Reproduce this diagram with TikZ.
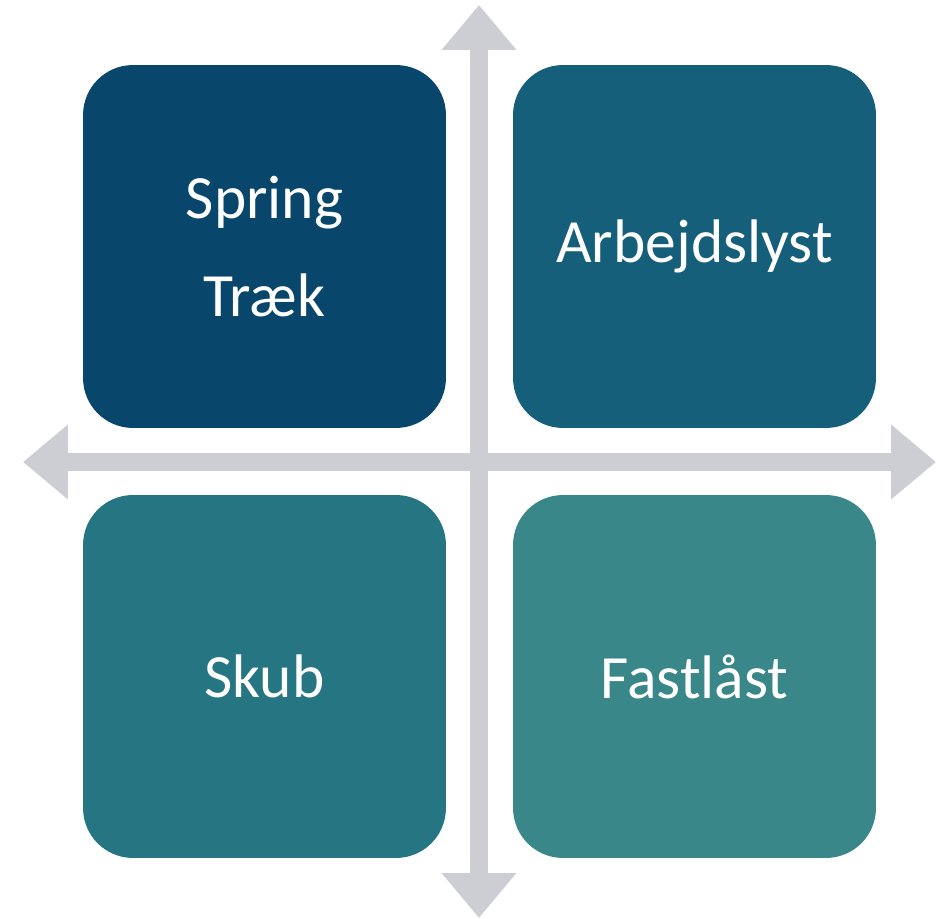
\documentclass[tikz,border=0pt]{standalone}
\usepackage{fontspec}
\setmainfont{Carlito}
\usepackage{xcolor}
\usetikzlibrary{arrows.meta}
\definecolor{qnavy}{HTML}{08466B}
\definecolor{qblue}{HTML}{165F7A}
\definecolor{qteal}{HTML}{257582}
\definecolor{qsea}{HTML}{3A8789}
\definecolor{agray}{HTML}{CCCED3}

\tikzset{
  quad/.style={rounded corners=1cm,minimum width=7.26cm,minimum height=7.26cm,
    inner sep=0pt,align=center,text=white,font=\fontsize{35}{56}\selectfont},
  axis/.style={agray,line width=0.36cm,
    {Triangle[width=1.44cm,length=0.9cm]}-{Triangle[width=1.44cm,length=0.9cm]}}
}

\begin{document}
\begin{tikzpicture}[x=0.02cm,y=-0.02cm]
        \useasboundingbox (0,0) rectangle (948,919);

        % Axes
        \coordinate (top) at (479,5);
        \coordinate (bottom) at (479,918);
        \coordinate (left) at (23,462);
        \coordinate (right) at (936,462);
        \draw[axis] (bottom) -- (top);
        \draw[axis] (left) -- (right);

        % Quadrants
        \node[quad,fill=qnavy] (pull) at (264.5,246.5) {Spring\\Træk};
        \node[quad,fill=qblue] (drive) at (694.5,246.5) {Arbejdslyst};
        \node[quad,fill=qteal] (push) at (264.5,676.5) {Skub};
        \node[quad,fill=qsea] (stuck) at (694.5,676.5) {Fastlåst};
      \end{tikzpicture}
\end{document}
